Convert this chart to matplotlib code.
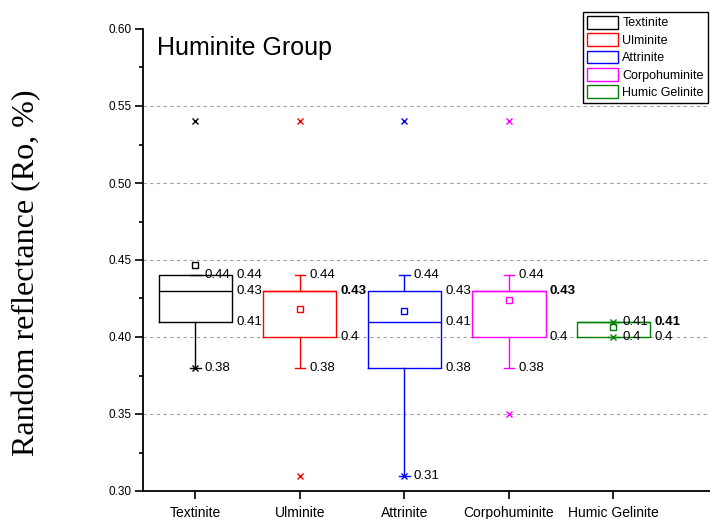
import matplotlib
matplotlib.use("Agg")
import matplotlib.pyplot as plt
from matplotlib.patches import Patch
from matplotlib.ticker import MultipleLocator

plt.rcParams['font.family'] = ['Liberation Sans', 'DejaVu Sans']

# box statistics for each maceral
cats = ['Textinite', 'Ulminite', 'Attrinite', 'Corpohuminite', 'Humic Gelinite']
q1 = [0.41, 0.40, 0.38, 0.40, 0.40]
med = [0.43, 0.43, 0.41, 0.43, 0.41]
q3 = [0.44, 0.43, 0.43, 0.43, 0.41]
whislo = [0.38, 0.38, 0.31, 0.38, 0.40]
whishi = [0.44, 0.44, 0.44, 0.44, 0.41]
means = [0.447, 0.418, 0.417, 0.424, 0.4065]
extremes = [[0.38, 0.54], [0.31, 0.54], [0.31, 0.54], [0.35, 0.54], [0.40, 0.41]]
colors = ['black', '#ff0000', '#0000ff', '#ff00ff', '#008000']

fig = plt.figure(figsize=(7.10, 5.19), dpi=100)
ax = fig.add_axes([143/710, 1 - 491/519, 575/710, 462/519])

stats = []
for i, c in enumerate(cats):
    stats.append(dict(label=c, q1=q1[i], med=med[i], q3=q3[i],
                      whislo=whislo[i], whishi=whishi[i],
                      mean=means[i], fliers=extremes[i]))

pos = list(range(1, len(cats) + 1))
bw = 0.7
art = ax.bxp(stats, positions=pos, widths=bw, showmeans=True,
             capwidths=0.1, manage_ticks=False)

for i, col in enumerate(colors):
    art['boxes'][i].set(color=col, lw=1.0)
    art['medians'][i].set(color=col, lw=1.0)
    for ln in art['whiskers'][2*i:2*i+2] + art['caps'][2*i:2*i+2]:
        ln.set(color=col, lw=1.0)
    art['means'][i].set(marker='s', markerfacecolor='none',
                        markeredgecolor=col, markersize=5, mew=1.0)
    art['fliers'][i].set(marker='x', markeredgecolor=col,
                         markersize=5, mew=1.0)

# value labels: whisker ends beside the centre, box values beside the right edge
for i, p in enumerate(pos):
    for v in sorted(set([whislo[i], whishi[i]])):
        ax.text(p + 0.09, v, f"{v:g}", fontsize=9.5, va='center', ha='left')
    for v in sorted(set([q1[i], med[i], q3[i]])):
        bold = (v == med[i]) and (v == q1[i] or v == q3[i])
        ax.text(p + bw/2 + 0.04, v, f"{v:g}", fontsize=9.5, va='center',
                ha='left', fontweight='bold' if bold else 'normal')

ax.set_xlim(0.5, 6.0)
ax.set_ylim(0.30, 0.60)
ax.set_xticks(pos)
ax.set_xticklabels(cats, fontsize=10)
ax.yaxis.set_major_locator(MultipleLocator(0.05))
ax.yaxis.set_minor_locator(MultipleLocator(0.025))
ax.yaxis.set_major_formatter(matplotlib.ticker.FormatStrFormatter('%.2f'))
ax.tick_params(axis='y', which='major', direction='out', length=6, width=1.2,
               labelsize=8.5, pad=2)
ax.tick_params(axis='y', which='minor', direction='out', length=3, width=1.2)
ax.tick_params(axis='x', direction='out', length=6, width=1.2, pad=4.5)

for s in ['top', 'right']:
    ax.spines[s].set_visible(False)
for s in ['left', 'bottom']:
    ax.spines[s].set_linewidth(1.3)

for y in [0.35, 0.40, 0.45, 0.50, 0.55]:
    ax.axhline(y, color='#a0a0a0', lw=0.8, dashes=(3, 3), zorder=0)

fig.text(157/710, 1 - 55/519, 'Huminite Group', fontsize=18, va='baseline')
fig.text(27/710, 1 - 273/519, 'Random reflectance (Ro, %)', rotation=90,
         ha='center', va='center', fontsize=23,
         family=['Liberation Serif', 'DejaVu Serif'])

handles = [Patch(facecolor='white', edgecolor=c, lw=1.0) for c in colors]
leg = fig.legend(handles, cats, loc='upper left',
                 bbox_to_anchor=(583/710, 1 - 12/519), borderaxespad=0,
                 fontsize=9, handlelength=2.5, handleheight=1.2,
                 handletextpad=0.35, labelspacing=0.3, borderpad=0.3,
                 fancybox=False, framealpha=1, edgecolor='black')
leg.get_frame().set_linewidth(1.0)

fig.savefig('out.png', dpi=100)
